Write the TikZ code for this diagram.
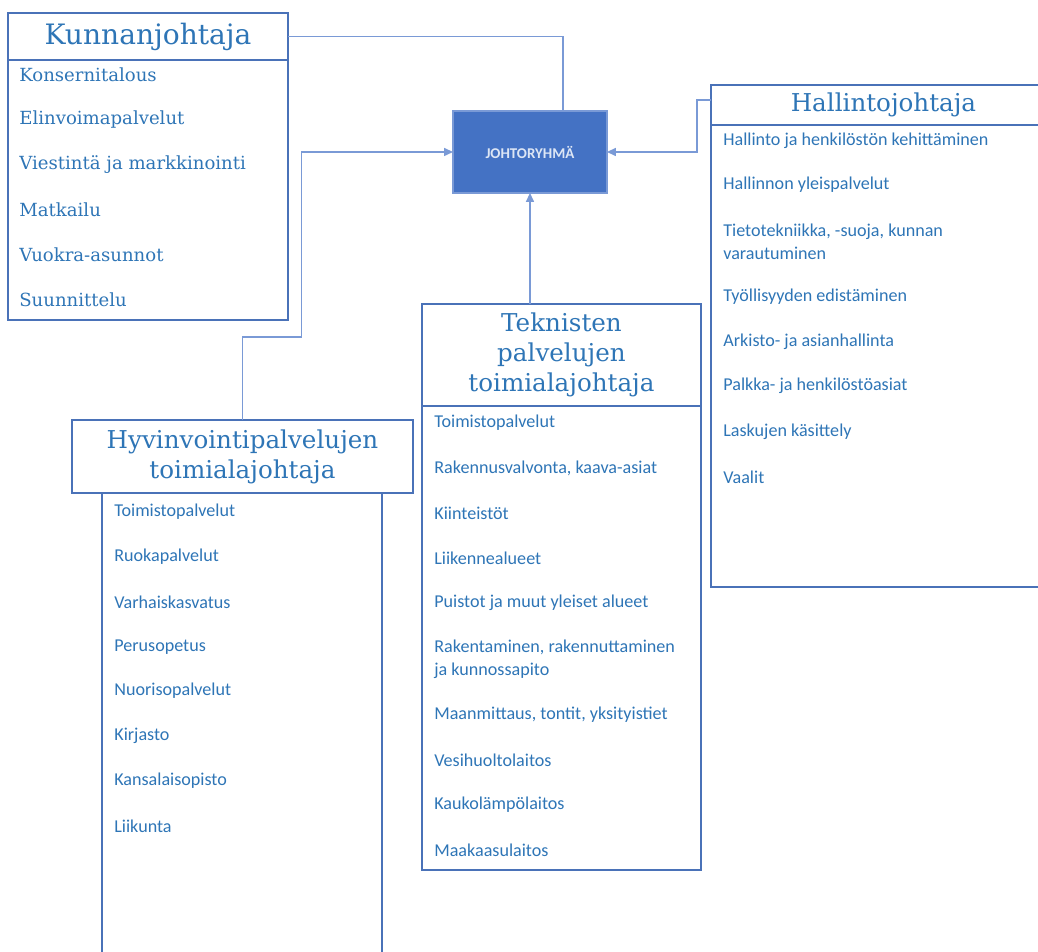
\documentclass[tikz,border=0pt]{standalone}
\usepackage{fontspec}
\setmainfont{Carlito}
\newfontfamily\serifhead{DejaVu Serif}
\usetikzlibrary{arrows.meta}

\definecolor{boxblue}{HTML}{4A72B8}
\definecolor{textblue}{HTML}{2E75B6}
\definecolor{linkblue}{HTML}{7A9AD6}
\definecolor{groupfill}{HTML}{4472C4}
\definecolor{grouptext}{HTML}{DDE6F5}

\tikzset{
  headbox/.style={draw=boxblue, line width=1.3pt, anchor=north west, inner sep=0pt,
    outer sep=0pt, align=center, text=textblue, font=\serifhead\fontsize{14}{17}\selectfont},
  listbox/.style={draw=boxblue, line width=1.3pt, anchor=north west, inner sep=0pt, outer sep=0pt},
  item/.style={anchor=west, inner sep=0pt, text=textblue, align=left,
    font=\fontsize{10.3}{13}\selectfont},
  seritem/.style={item, font=\serifhead\fontsize{10.3}{12}\selectfont},
  link/.style={draw=linkblue, line width=0.7pt},
  linkarrow/.style={link, -{Triangle[length=5pt,width=4.5pt]}}
}

\begin{document}
\begin{tikzpicture}[x=0.02cm, y=-0.02cm]
  \useasboundingbox (0,0) rectangle (1038,952);
  \clip (0,0) rectangle (1038,952);

  % lists
  \node[listbox, minimum width=5.6cm, minimum height=5.2cm] (kunnanlist) at (8,60) {};
  \node[listbox, minimum width=6.6cm, minimum height=9.24cm] (halllist) at (711,125) {};
  \node[listbox, minimum width=5.58cm, minimum height=9.28cm] (teknlist) at (422,406) {};
  \node[listbox, minimum width=5.6cm, minimum height=9.8cm] (hyvinlist) at (102,493) {};

  % heads
  \node[headbox, minimum width=5.6cm, minimum height=0.94cm,
    font=\serifhead\fontsize{16}{19}\selectfont] (kunnan) at (8,13) {Kunnanjohtaja};
  \node[headbox, minimum width=6.9cm, minimum height=0.8cm] (hall) at (711,85) {Hallintojohtaja};
  \node[headbox, minimum width=5.58cm, minimum height=2.04cm] (tekn) at (422,304)
    {Teknisten\\palvelujen\\toimialajohtaja};
  \node[headbox, minimum width=6.82cm, minimum height=1.46cm] (hyvin) at (72,420)
    {Hyvinvointipalvelujen\\toimialajohtaja};

  \node[fill=groupfill, draw=linkblue, line width=0.7pt, anchor=north west, inner sep=0pt,
    outer sep=0pt, minimum width=3.08cm, minimum height=1.64cm, text=grouptext,
    font=\bfseries\fontsize{8.5}{10}\selectfont] (johto) at (453,111) {JOHTORYHMÄ};

  % items
  \foreach \y/\t [count=\i] in {75/Konsernitalous, 120/Elinvoimapalvelut,
      165/Viestintä ja markkinointi, 210/Matkailu, 255/Vuokra-asunnot, 300/Suunnittelu}
    \node[seritem] (kunnan\i) at (19,\y) {\t};

  \foreach \y/\t [count=\i] in {141/Hallinto ja henkilöstön kehittäminen,
      185/Hallinnon yleispalvelut, 241.5/{Tietotekniikka, -suoja, kunnan\\varautuminen},
      297/Työllisyyden edistäminen, 342/Arkisto- ja asianhallinta,
      386/Palkka- ja henkilöstöasiat, 432/Laskujen käsittely, 477/Vaalit}
    \node[item] (hall\i) at (723,\y) {\t};

  \foreach \y/\t [count=\i] in {423/Toimistopalvelut, 468/{Rakennusvalvonta, kaava-asiat},
      513/Kiinteistöt, 558/Liikennealueet, 603/Puistot ja muut yleiset alueet,
      659/{Rakentaminen, rakennuttaminen\\ja kunnossapito},
      715/{Maanmittaus, tontit, yksityistiet}, 760/Vesihuoltolaitos,
      805/Kaukolämpölaitos, 850/Maakaasulaitos}
    \node[item] (tekn\i) at (434,\y) {\t};

  \foreach \y/\t [count=\i] in {512/Toimistopalvelut, 557/Ruokapalvelut,
      602/Varhaiskasvatus, 647/Perusopetus, 691/Nuorisopalvelut, 736/Kirjasto,
      781/Kansalaisopisto, 826/Liikunta}
    \node[item] (hyvin\i) at (114,\y) {\t};

  % connectors
  \draw[link] (kunnan.east) -| ([xshift=0.66cm]johto.north);
  \draw[linkarrow] (hyvin.north) |- ++(59,-83) |- (johto.west);
  \draw[linkarrow] (tekn.north -| johto.south) -- (johto.south);
  \draw[linkarrow] ([yshift=0.1cm]hall.west) -- ++(-14,0) |- (johto.east);
\end{tikzpicture}
\end{document}
